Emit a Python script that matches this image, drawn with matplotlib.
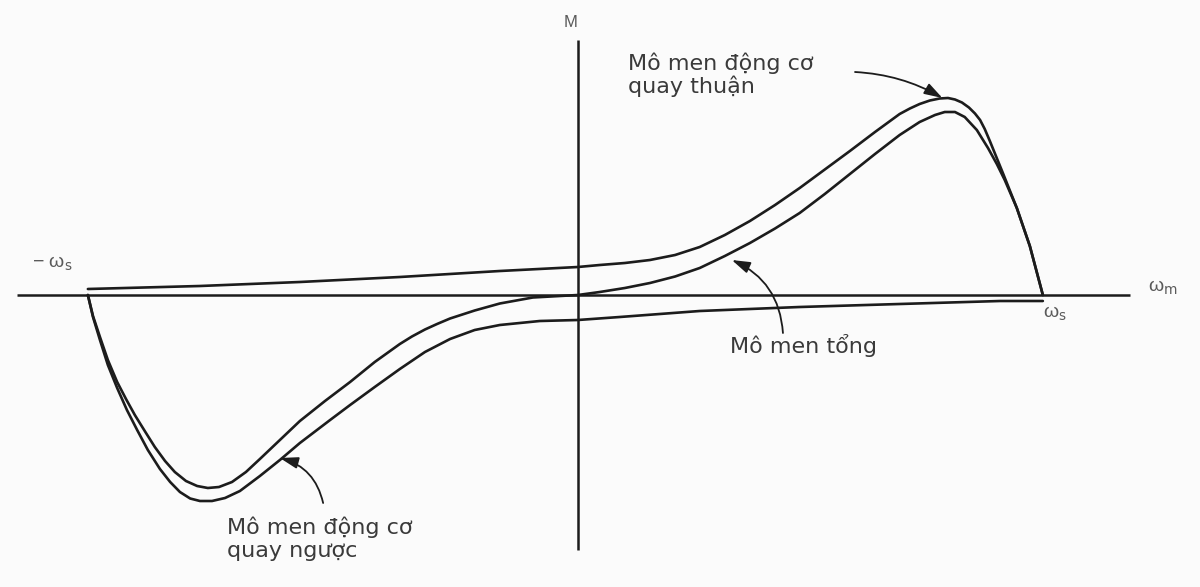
import matplotlib
matplotlib.use("Agg")
import matplotlib.pyplot as plt
from matplotlib.patches import FancyArrowPatch

# Torque-speed characteristics of a single-phase induction motor.
# Speed in % of synchronous speed, torque in % of forward breakdown torque.
fwd_speed = [-105.4, -81.3, -59.8, -38.3, -16.8, 0.0, 4.7, 10.1, 15.5, 20.9,
             26.2, 31.6, 37.0, 42.4, 47.7, 58.5, 63.9, 69.2, 71.4, 73.5,
             75.7, 77.8, 79.6, 81.1, 82.6, 84.1, 85.4, 86.5, 87.5, 88.6,
             91.4, 94.4, 97.2, 100.0]
fwd_torque = [3.0, 4.5, 6.5, 9.0, 12.0, 14.0, 15.0, 16.0, 17.5, 20.0,
              24.0, 30.0, 37.0, 45.0, 53.5, 72.0, 81.5, 90.5, 93.25, 95.5,
              97.25, 98.25, 98.5, 97.75, 96.25, 93.75, 90.75, 87.5, 83.0, 77.0,
              61.0, 43.5, 24.5, 0.0]

bwd_speed = [-105.4, -104.3, -102.8, -101.1, -99.1, -97.0, -94.8, -92.5,
             -89.9, -87.7, -85.6, -83.4, -81.3, -78.7, -75.9, -72.7, -68.4,
             -64.1, -59.8, -53.3, -49.0, -43.7, -38.3, -32.9, -27.5, -22.2,
             -16.8, -8.2, 0.0, 9.0, 26.2, 47.7, 69.2, 90.8, 100.0]
bwd_torque = [0.0, -11.0, -22.5, -35.0, -46.5, -57.5, -67.5, -77.5,
              -87.0, -93.5, -98.5, -101.75, -103.0, -103.0, -101.5, -98.0, -90.5,
              -82.5, -74.0, -62.5, -55.0, -46.0, -37.0, -28.5, -22.0, -17.5,
              -15.0, -13.0, -12.5, -11.0, -8.0, -6.0, -4.5, -3.0, -3.0]

tot_speed = [-105.4, -104.3, -102.8, -101.1, -99.1, -97.2, -95.3, -93.1,
             -91.0, -88.8, -86.7, -84.3, -81.9, -79.6, -77.2, -74.4, -71.4,
             -68.4, -64.1, -59.8, -54.4, -49.0, -43.7, -38.3, -35.7, -32.9,
             -30.3, -27.5, -22.2, -16.8, -9.7, 0.0, 4.7, 10.1, 15.5, 20.9,
             26.2, 31.6, 37.0, 42.4, 47.7, 53.1, 58.5, 63.9, 69.2, 73.5,
             76.8, 78.9, 81.1, 83.2, 85.8, 88.2, 90.1, 91.8, 94.4, 97.2, 100.0]
tot_torque = [0.0, -10.5, -21.0, -32.5, -43.5, -52.0, -60.0, -68.25,
              -76.0, -83.0, -88.5, -93.0, -95.5, -96.5, -96.0, -93.5, -88.5,
              -82.0, -72.5, -63.0, -53.0, -43.5, -33.5, -24.5, -20.75, -17.25,
              -14.5, -11.75, -7.75, -4.25, -1.25, 0.0, 1.5, 3.5, 6.0, 9.25,
              13.5, 19.5, 26.0, 33.25, 41.0, 50.5, 60.5, 70.5, 80.0, 86.5,
              90.0, 91.5, 91.5, 89.0, 82.5, 73.5, 65.5, 57.5, 43.5, 24.5, 0.0]

label_forward = ["Mô men động cơ", "quay thuận"]
label_total = "Mô men tổng"
label_backward = ["Mô men động cơ", "quay ngược"]

plt.rcParams["font.family"] = ["DejaVu Sans"]

LINE = "#1c1c1c"
TEXT = "#3a3a3a"
SYM = "#5a5a5a"

fig = plt.figure(figsize=(12, 5.87), dpi=100)
fig.patch.set_facecolor("#fbfbfb")
ax = fig.add_axes([0, 0, 1, 1])
ax.set_facecolor("#fbfbfb")
ax.set_xlim(-124.3, 133.8)
ax.set_ylim(-146, 147.5)
ax.axis("off")

# coordinate axes
ax.plot([-120.6, 118.7], [0, 0], color=LINE, lw=1.8, solid_capstyle="butt")
ax.plot([0, 0], [-127.5, 127.5], color=LINE, lw=1.8, solid_capstyle="butt")

# curves
for sp, tq in ((fwd_speed, fwd_torque), (bwd_speed, bwd_torque),
               (tot_speed, tot_torque)):
    ax.plot(sp, tq, color=LINE, lw=1.9, solid_joinstyle="round",
            solid_capstyle="round")

# axis symbols
ax.text(-1.5, 134, "M", ha="center", va="baseline", fontsize=12,
        color=SYM, family="Liberation Sans")
ax.text(122.6, 1.5, r"ω$_\mathrm{m}$", ha="left", va="baseline", fontsize=14,
        color=SYM, family="Liberation Sans")
ax.text(100.0, -11.5, r"ω$_\mathrm{s}$", ha="left", va="baseline", fontsize=14,
        color=SYM, family="Liberation Sans")
ax.text(-117.4, 13.5, r"− ω$_\mathrm{s}$", ha="left", va="baseline",
        fontsize=14, color=SYM, family="Liberation Sans")

# curve labels
FS = 16
ax.text(10.8, 112.5, label_forward[0], ha="left", va="baseline", fontsize=FS, color=TEXT)
ax.text(10.8, 101.0, label_forward[1], ha="left", va="baseline", fontsize=FS, color=TEXT)
ax.text(32.7, -29.0, label_total, ha="left", va="baseline", fontsize=FS, color=TEXT)
ax.text(-75.5, -119.5, label_backward[0], ha="left", va="baseline", fontsize=FS, color=TEXT)
ax.text(-75.5, -131.0, label_backward[1], ha="left", va="baseline", fontsize=FS, color=TEXT)

# pointer arrows
arrow_kw = dict(arrowstyle="-|>,head_length=1.1,head_width=0.35",
                mutation_scale=10, color=LINE, lw=1.3, shrinkA=0, shrinkB=0)
ax.add_patch(FancyArrowPatch((59.6, 111.5), (78.4, 98.5),
                             connectionstyle="arc3,rad=-0.12", **arrow_kw))
ax.add_patch(FancyArrowPatch((44.1, -19.0), (33.1, 17.5),
                             connectionstyle="arc3,rad=0.3", **arrow_kw))
ax.add_patch(FancyArrowPatch((-54.8, -104.0), (-64.1, -81.5),
                             connectionstyle="arc3,rad=0.3", **arrow_kw))

fig.savefig("out.png", dpi=100, facecolor=fig.get_facecolor())
